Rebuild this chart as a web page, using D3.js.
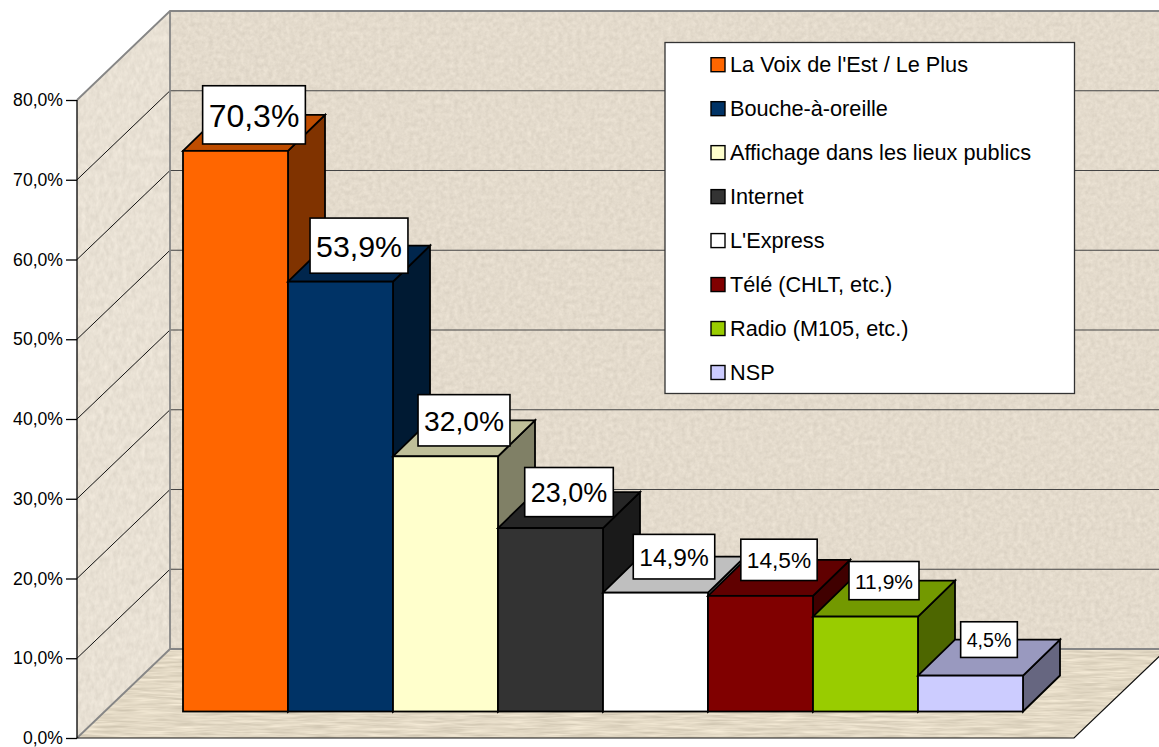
<!DOCTYPE html>
<html><head><meta charset="utf-8">
<style>html,body{margin:0;padding:0;background:#fff}svg{display:block}text{font-family:"Liberation Sans",Arial,sans-serif;fill:#000}</style>
<script src="https://cdn.jsdelivr.net/npm/d3@7/dist/d3.min.js"></script>
</head><body>
<script>
const categories = ["La Voix de l'Est / Le Plus","Bouche-à-oreille","Affichage dans les lieux publics","Internet","L'Express","Télé (CHLT, etc.)","Radio (M105, etc.)","NSP"];
const values = [70.3,53.9,32.0,23.0,14.9,14.5,11.9,4.5];
const colors = ["#FF6600","#003366","#FFFFCC","#333333","#FFFFFF","#800000","#99CC00","#CCCCFF"];
const labelFontSizes = [32,30.3,28.2,27,24.5,22.7,21,19.6];
const yTicks = [0,10,20,30,40,50,60,70,80];

const W=1159,H=747;
const fmt = v => v.toFixed(1).replace(".",",")+"%";
const svg = d3.select("body").append("svg").attr("width",W).attr("height",H);
const defs = svg.append("defs");

function texture(id,fx,fy,base,amp,seed){
  const f = defs.append("filter").attr("id",id).attr("x",0).attr("y",0).attr("width","100%").attr("height","100%")
    .attr("filterUnits","objectBoundingBox").attr("color-interpolation-filters","sRGB");
  f.append("feTurbulence").attr("type","fractalNoise").attr("baseFrequency",fx+" "+fy).attr("numOctaves",3).attr("seed",seed).attr("result","n");
  const m = c=>[amp,0,0,0,c-amp/2].join(" ");
  f.append("feColorMatrix").attr("in","n").attr("type","matrix")
    .attr("values",[m(base[0]),m(base[1]),m(base[2]),"0 0 0 0 1"].join(" ")).attr("result","c");
  f.append("feComposite").attr("in","c").attr("in2","SourceAlpha").attr("operator","in");
}
texture("texBack",0.22,0.22,[.892,.857,.80],.10,4);
texture("texSide",0.22,0.14,[.91,.88,.83],.10,9);
texture("texFloor",0.03,0.42,[.89,.85,.77],.22,7);

const DX=93, DY=-89, bDX=37, bDY=-36;
const y = d3.scaleLinear().domain([0,80]).range([738,100]);          // front edge of the left wall
const yBack = d3.scaleLinear().domain([0,80]).range([738+DY,100+DY]); // back wall
const yBar = d3.scaleLinear().domain([0,80]).range([711.5,711.5-638]); // front face of bars
const x = d3.scaleBand().domain(categories).range([183,1023]).padding(0);
const xL=77, xB=xL+DX, xR=1074;
const poly = p => p.map(d=>d.join(",")).join(" ");

// walls and floor
svg.append("rect").attr("x",xB).attr("y",yBack(80)).attr("width",W-xB+20).attr("height",yBack(0)-yBack(80)).attr("fill","#e0d8cb").attr("filter","url(#texBack)");
svg.append("polygon").attr("points",poly([[xL,y(80)],[xB,yBack(80)],[xB,yBack(0)],[xL,y(0)]])).attr("fill","#e4ded3").attr("filter","url(#texSide)");
svg.append("polygon").attr("points",poly([[xL,y(0)],[xB,yBack(0)],[xR+DX,yBack(0)],[xR,y(0)]])).attr("fill","#e2dacb").attr("filter","url(#texFloor)");

// gridlines
const ticksInner = yTicks.filter(v=>v>0&&v<80);
svg.selectAll(".gs").data(ticksInner).join("line").attr("x1",xL).attr("y1",d=>y(d)).attr("x2",xB).attr("y2",d=>yBack(d)).attr("stroke","#111").attr("stroke-width",1);
svg.selectAll(".gb").data(ticksInner).join("line").attr("x1",xB).attr("y1",d=>yBack(d)).attr("x2",W).attr("y2",d=>yBack(d)).attr("stroke","#444").attr("stroke-width",1.2);

// wall borders
const gray="#868686";
svg.append("path").attr("fill","none").attr("stroke",gray).attr("stroke-width",1.8)
  .attr("d",`M${xL},${y(80)}L${xB},${yBack(80)}L${W},${yBack(80)}M${xB},${yBack(80)}L${xB},${yBack(0)}L${W},${yBack(0)}M${xB},${yBack(0)}L${xL},${y(0)}`);
svg.append("path").attr("fill","none").attr("stroke","#111").attr("stroke-width",1.2)
  .attr("d",`M${xL},${y(0)}L${xR},${y(0)}L${xR+DX},${yBack(0)}`);

// y axis
const axis = svg.append("g").attr("transform",`translate(${xL},0)`)
  .call(d3.axisLeft(y).tickValues(yTicks).tickSize(11).tickPadding(3).tickFormat(fmt));
axis.select(".domain").attr("stroke","#000").attr("stroke-width",1.3).attr("d",`M0,${y(80)}V${y(0)}`);
axis.selectAll(".tick line").attr("stroke","#000").attr("stroke-width",1.3);
axis.selectAll("text").style("font-family",'"Liberation Sans",Arial,sans-serif').style("font-size","17.6px").attr("fill","#000");

// bars
const shade=(c,k)=>{const r=d3.rgb(c);return d3.rgb(r.r*k,r.g*k,r.b*k).formatHex();};
const bars = svg.selectAll(".bar").data(values).join("g").attr("class","bar");
bars.each(function(v,i){
  const g=d3.select(this), x0=x(categories[i]), x1=x0+x.bandwidth(), t=yBar(v), b=yBar(0), c=colors[i];
  const st=s=>s.attr("stroke","#000").attr("stroke-width",1.8).attr("stroke-linejoin","miter");
  st(g.append("polygon").attr("points",poly([[x1,t],[x1+bDX,t+bDY],[x1+bDX,b+bDY],[x1,b]])).attr("fill",shade(c,.5)));
  st(g.append("polygon").attr("points",poly([[x0,t],[x0+bDX,t+bDY],[x1+bDX,t+bDY],[x1,t]])).attr("fill",shade(c,.75)));
  st(g.append("rect").attr("x",x0).attr("y",t).attr("width",x1-x0).attr("height",b-t).attr("fill",c));
});

// data labels
const labels = svg.selectAll(".lab").data(values).join("g").attr("class","lab");
labels.each(function(v,i){
  const g=d3.select(this), fs=labelFontSizes[i];
  const cx=x(categories[i])+x.bandwidth()/2+bDX/2, cy=yBar(v)+bDY;
  const r=g.append("rect").attr("fill","#fff").attr("stroke","#000").attr("stroke-width",1.6);
  const t=g.append("text").attr("x",cx).attr("y",cy).attr("text-anchor","middle").attr("dy","0.38em").style("font-size",fs+"px").text(fmt(v));
  const w=t.node().getComputedTextLength()+12, h=fs*1.82;
  r.attr("x",cx-w/2).attr("y",cy-h/2).attr("width",w).attr("height",h);
});

// legend
const lg = svg.append("g");
lg.append("rect").attr("x",665).attr("y",42.5).attr("width",409.5).attr("height",351).attr("fill","#fff").attr("stroke","#333").attr("stroke-width",1.3);
const ly = d3.scalePoint().domain(categories).range([64.7,372.5]);
const items = lg.selectAll(".it").data(categories).join("g");
items.append("rect").attr("x",711).attr("y",d=>ly(d)-7).attr("width",14).attr("height",14).attr("fill",(d,i)=>colors[i]).attr("stroke","#000").attr("stroke-width",1.4);
items.append("text").attr("x",730).attr("y",d=>ly(d)).attr("dy","0.35em").style("font-size","21.7px").text(d=>d);
</script>
</body></html>
